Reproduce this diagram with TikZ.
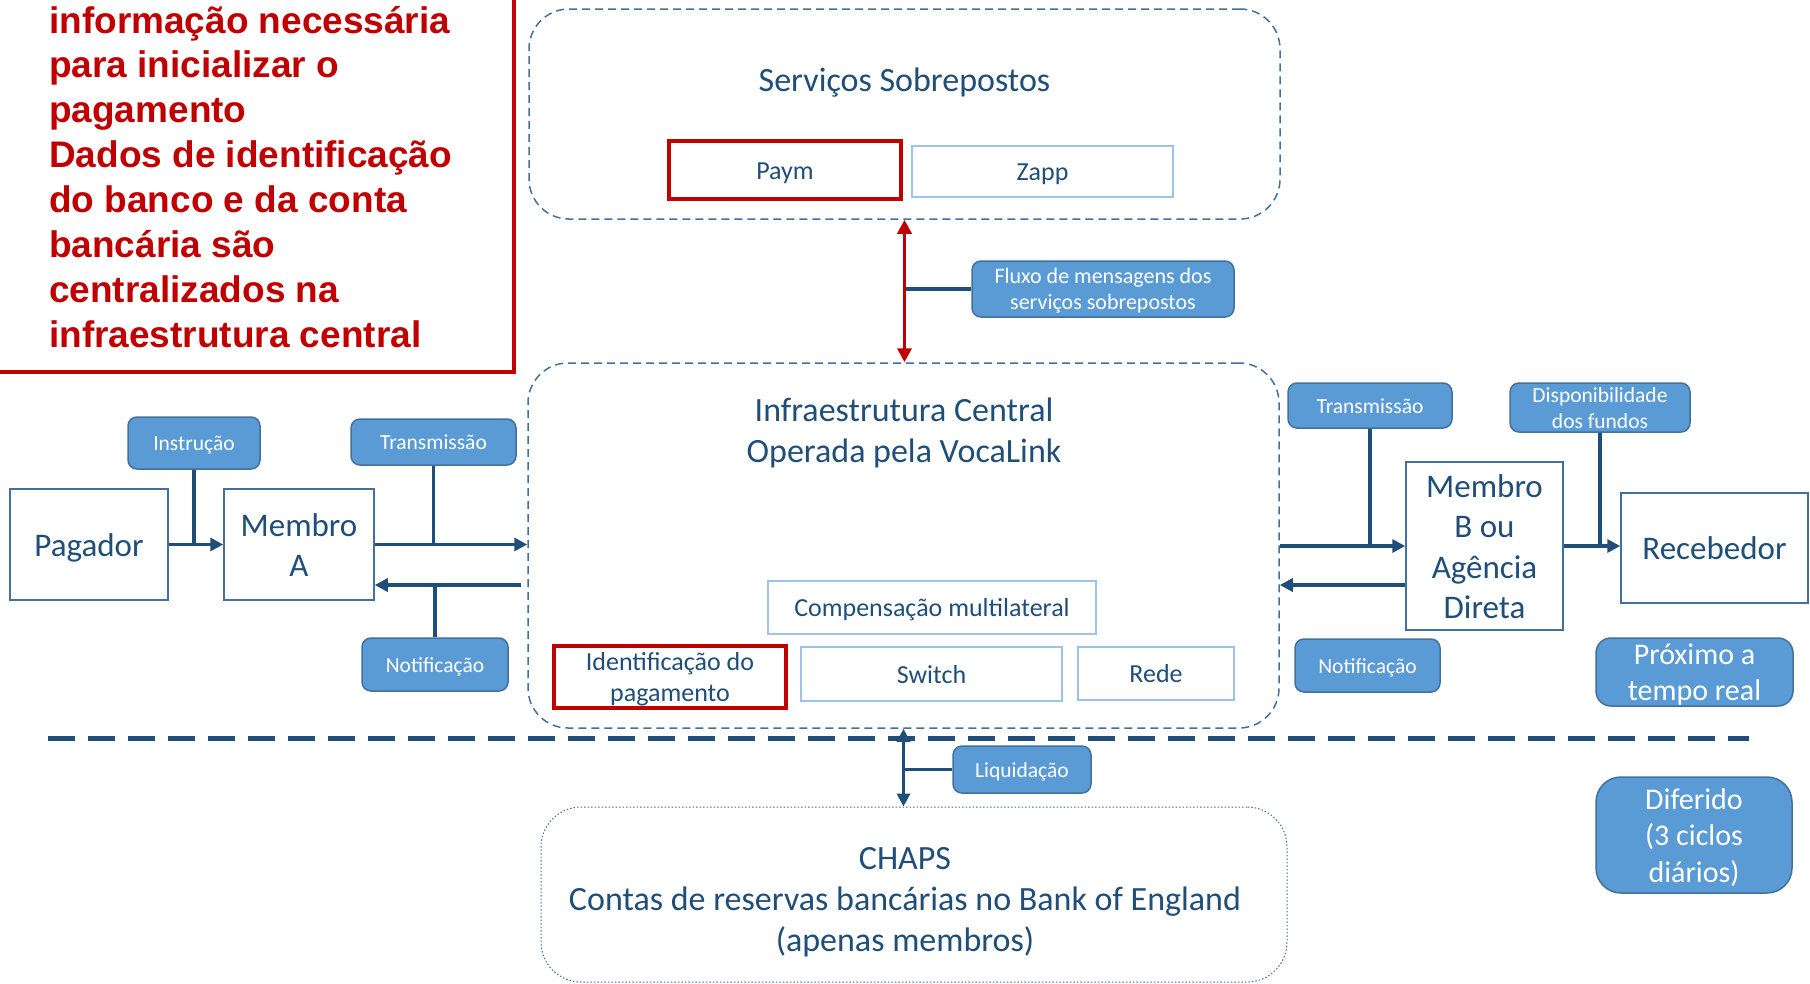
\documentclass[tikz,border=0pt]{standalone}
\usepackage{fontspec}
\setmainfont{Carlito}
\newfontfamily\arialfont{Liberation Sans}
\usetikzlibrary{arrows.meta,positioning}

\definecolor{azulescuro}{HTML}{1F4E79}
\definecolor{azulborda}{HTML}{41719C}
\definecolor{azulrotulo}{HTML}{5B9BD5}
\definecolor{azulclaro}{HTML}{9DC3E6}
\definecolor{vermelho}{HTML}{C00000}

% linha de altura fixa, como no slide
\newcommand\esteio{\vrule width 0pt height 0.87em depth 0.15em}

\tikzset{
  linhafixa/.style={execute at begin node=\esteio, execute at end node=\esteio},
  caixa/.style={draw=azulborda, line width=1.5pt, fill=white, text=azulescuro, inner sep=0pt, align=center, linhafixa, font=\fontsize{33}{40.5}\selectfont},
  rotulo/.style={draw=azulborda, line width=1.5pt, fill=azulrotulo, rounded corners=9pt, text=white, inner sep=0pt, align=center, linhafixa, font=\fontsize{21.5}{26.2}\selectfont},
  interno/.style={draw=azulclaro, line width=2pt, fill=white, text=azulescuro, inner sep=0pt, align=center, linhafixa, font=\fontsize{26}{31.7}\selectfont},
  destaque/.style={draw=vermelho, line width=4.5pt, text=azulescuro, inner sep=0pt, align=center, linhafixa, font=\fontsize{26}{31.7}\selectfont},
  tracejado/.style={draw=azulborda, line width=1.5pt, dash pattern=on 8pt off 5pt, rounded corners=40pt, inner sep=0pt},
  pontilhado/.style={draw=azulborda, line width=1pt, dash pattern=on 1.5pt off 2pt, rounded corners=40pt, inner sep=0pt},
  titulo/.style={text=azulescuro, align=center, inner sep=0pt, linhafixa, font=\fontsize{34}{41}\selectfont},
  nota/.style={text=vermelho, inner sep=0pt, font=\arialfont\bfseries\fontsize{37}{45}\selectfont},
  fluxo/.style={draw=azulescuro, line width=3.8pt, -{Triangle[length=13pt,width=13pt]}},
  haste/.style={draw=azulescuro, line width=3.8pt},
}

\begin{document}
\begin{tikzpicture}[x=1pt,y=-1pt]
	%%%%% START %%%%%
	\useasboundingbox (0,0) rectangle (1810,983);
	\clip (0,0) rectangle (1810,983);
	\fill[white] (0,0) rectangle (1810,983);
	
	% nota em vermelho
	\draw[vermelho, line width=4pt] (-20,-20) rectangle (514,372);
	\foreach \linha [count=\i from 0] in {informação necessária, para inicializar o, pagamento, Dados de identificação, do banco e da conta, bancária são, centralizados na, infraestrutura central}
		\node[nota, anchor=base west] (nota\i) at (49,{33+44.9*\i}) {\linha};
	
	% servicos sobrepostos
	\node[tracejado, minimum width=751pt, minimum height=210pt] (servicos) at (904.5,114) {};
	\node[titulo] (tituloServicos) at (904.5,80) {Serviços Sobrepostos};
	\node[destaque, minimum width=232pt, minimum height=58pt] (paym) at (785,170) {Paym};
	\node[interno, minimum width=261pt, minimum height=51pt] (zapp) at (1042.5,171.5) {Zapp};
	
	% infraestrutura central
	\node[tracejado, minimum width=751pt, minimum height=365pt] (infra) at (903.5,545.5) {};
	\node[titulo] (tituloInfra) at (904,432.5) {Infraestrutura Central\\Operada pela VocaLink};
	\node[interno, minimum width=328pt, minimum height=53pt] (compensacao) at (932,607.5) {Compensação multilateral};
	\node[destaque, minimum width=232pt, minimum height=62pt] (identificacao) at (670,677) {\esteio Identificação do\\pagamento\esteio};
	\node[interno, minimum width=261pt, minimum height=54pt] (switch) at (931.5,674) {Switch};
	\node[interno, minimum width=156pt, minimum height=53pt] (rede) at (1156,673.5) {Rede};
	
	% chaps
	\node[pontilhado, minimum width=746pt, minimum height=175pt] (chaps) at (914,894.5) {};
	\node[titulo] (tituloChaps) at (905,902.5) {CHAPS\\Contas de reservas bancárias no Bank of England\\(apenas membros)};
	
	\draw[azulescuro, line width=5pt, dash pattern=on 27pt off 13pt] (48,738) -- (1749,738);
	
	% pagador
	\node[caixa, minimum width=158pt, minimum height=111pt] (pagador) at (89,544.5) {Pagador};
	\node[caixa, minimum width=150pt, minimum height=111pt] (membroA) at (299,544.5) {\esteio Membro\\A\esteio};
	\node[rotulo, minimum width=132pt, minimum height=52pt] (instrucao) at (194,443) {Instrução};
	\node[rotulo, minimum width=165pt, minimum height=46pt] (transA) at (433.5,442) {Transmissão};
	\node[rotulo, minimum width=146pt, minimum height=53pt] (notifA) at (435,664.5) {Notificação};
	
	% recebedor
	\node[caixa, minimum width=157pt, minimum height=168pt] (membroB) at (1484.5,546) {\esteio Membro\\B ou\\Agência\\Direta\esteio};
	\node[caixa, minimum width=187pt, minimum height=110pt] (recebedor) at (1714.5,548) {Recebedor};
	\node[rotulo, minimum width=164pt, minimum height=45pt] (transB) at (1370,405.5) {Transmissão};
	\node[rotulo, minimum width=145pt, minimum height=53pt] (notifB) at (1367.5,665.5) {Notificação};
	\node[rotulo, minimum width=180pt, minimum height=49pt, font=\fontsize{21.5}{26}\selectfont] (dispon) at (1600,407.5) {\esteio Disponibilidade\\dos fundos\esteio};
	
	\node[rotulo, minimum width=197pt, minimum height=68pt, rounded corners=15pt, font=\fontsize{30}{36.5}\selectfont] (proximo) at (1694.5,672) {\esteio Próximo a\\tempo real\esteio};
	\node[rotulo, minimum width=196pt, minimum height=116pt, rounded corners=25pt, font=\fontsize{30}{36.5}\selectfont] (diferido) at (1694,835) {\esteio Diferido\\(3 ciclos\\diários)\esteio};
	
	% fluxo dos servicos
	\node[rotulo, minimum width=262pt, minimum height=56pt, font=\fontsize{22}{26.5}\selectfont] (fluxoRot) at (1103,289) {\esteio Fluxo de mensagens dos\\serviços sobrepostos\esteio};
	\draw[haste] (fluxoRot.west) -- (fluxoRot.west -| servicos.south);
	\draw[vermelho, line width=3.5pt, {Triangle[length=14pt,width=14pt]}-{Triangle[length=14pt,width=14pt]}] (servicos.south) -- (servicos.south |- infra.north);
	
	% liquidacao
	\node[rotulo, minimum width=138pt, minimum height=47pt] (liquidacao) at (1022,769.5) {Liquidação};
	\draw[haste] (liquidacao.west) -- (liquidacao.west -| infra.south);
	\draw[azulescuro, line width=3.5pt, {Triangle[length=13pt,width=13pt]}-{Triangle[length=13pt,width=13pt]}] (infra.south) -- (infra.south |- chaps.north);
	
	% setas do lado do pagador
	\coordinate (voltaA) at (521,585);
	\draw[haste] (instrucao.south) -- (instrucao.south |- pagador.east);
	\draw[haste] (transA.south) -- (transA.south |- membroA.east);
	\draw[haste] (notifA.north) -- (notifA.north |- voltaA);
	\draw[fluxo] (pagador.east) -- (membroA.west);
	\draw[fluxo] (membroA.east) -- (membroA.east -| infra.west);
	\draw[fluxo] (voltaA) -- (voltaA -| membroA.east);
	
	% setas do lado do recebedor
	\draw[haste] (transB.south) -- (transB.south |- membroB.west);
	\draw[haste] (dispon.south) -- (dispon.south |- membroB.east);
	\draw[fluxo] (infra.east |- membroB.west) -- (membroB.west);
	\draw[fluxo] (membroB.west |- voltaA) -- (infra.east |- voltaA);
	\draw[fluxo] (membroB.east) -- (membroB.east -| recebedor.west);
	%%%%% END %%%%%
\end{tikzpicture}
\end{document}
